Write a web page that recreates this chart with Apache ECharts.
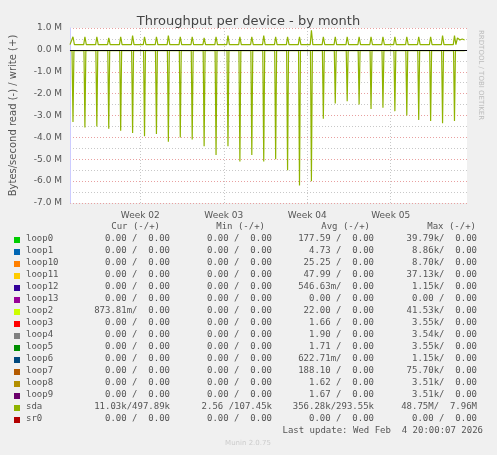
<!DOCTYPE html>
<html>
<head>
<meta charset="utf-8">
<script src="https://cdn.jsdelivr.net/npm/echarts@6/dist/echarts.min.js"></script>
<style>html,body{margin:0;padding:0;background:#f0f0f0}#main{width:497px;height:455px}</style>
</head>
<body>
<div id="main"></div>
<script>
// day offsets of the nightly spikes (0 = left edge of plot)
const spikeDays = [0.25,1.25,2.25,3.25,4.25,5.25,6.25,7.25,8.25,9.25,10.25,11.25,12.25,13.25,14.25,15.25,16.25,17.25,18.25,19.25,20.25,21.25,22.25,23.25,24.25,25.25,26.25,27.25,28.25,29.25,30.25,31.25,32.25];
// read spikes in MB/s (drawn negative)
const readSpikes = [3.3,3.55,3.5,3.6,3.7,3.8,3.95,3.85,4.2,4.0,4.1,4.4,4.8,4.4,5.1,4.8,5.1,5.0,5.5,6.2,6.0,3.15,2.45,2.35,2.5,2.7,2.65,2.8,3.0,3.2,3.25,3.35,3.25];
// write spikes in MB/s
const writeSpikes = [0.6,0.6,0.6,0.55,0.6,0.65,0.6,0.6,0.65,0.6,0.6,0.55,0.6,0.65,0.6,0.6,0.65,0.6,0.6,0.6,0.9,0.6,0.6,0.6,0.6,0.6,0.6,0.6,0.6,0.6,0.6,0.65,0.65];
const writeBase = 0.24;
const readBase = 0.03;
const tail = [[32.5,0.55],[32.7,0.45],[32.9,0.5],[33.1,0.45]];
const weekTicks = [5.9, 12.9, 19.9, 26.9];
const weekLabels = ['Week 02','Week 03','Week 04','Week 05'];

const legendNames = ['loop0','loop1','loop10','loop11','loop12','loop13','loop2','loop3','loop4','loop5','loop6','loop7','loop8','loop9','sda','sr0'];
const legendColors = ['#00cc00','#0066b3','#ff8000','#ffcc00','#330099','#990099','#ccff00','#ff0000','#808080','#008f00','#00487d','#b35a00','#b38f00','#6b006b','#8fb300','#b30000'];
const curVals = ['0.00 /  0.00','0.00 /  0.00','0.00 /  0.00','0.00 /  0.00','0.00 /  0.00','0.00 /  0.00','873.81m/  0.00','0.00 /  0.00','0.00 /  0.00','0.00 /  0.00','0.00 /  0.00','0.00 /  0.00','0.00 /  0.00','0.00 /  0.00','11.03k/497.89k','0.00 /  0.00'];
const minVals = ['0.00 /  0.00','0.00 /  0.00','0.00 /  0.00','0.00 /  0.00','0.00 /  0.00','0.00 /  0.00','0.00 /  0.00','0.00 /  0.00','0.00 /  0.00','0.00 /  0.00','0.00 /  0.00','0.00 /  0.00','0.00 /  0.00','0.00 /  0.00','2.56 /107.45k','0.00 /  0.00'];
const avgVals = ['177.59 /  0.00','4.73 /  0.00','25.25 /  0.00','47.99 /  0.00','546.63m/  0.00','0.00 /  0.00','22.00 /  0.00','1.66 /  0.00','1.90 /  0.00','1.71 /  0.00','622.71m/  0.00','188.10 /  0.00','1.62 /  0.00','1.67 /  0.00','356.28k/293.55k','0.00 /  0.00'];
const maxVals = ['39.79k/  0.00','8.86k/  0.00','8.70k/  0.00','37.13k/  0.00','1.15k/  0.00','0.00 /  0.00','41.53k/  0.00','3.55k/  0.00','3.54k/  0.00','3.55k/  0.00','1.15k/  0.00','75.70k/  0.00','3.51k/  0.00','3.51k/  0.00','48.75M/  7.96M','0.00 /  0.00'];

const M = 1e6;
const writeData = [[0, writeBase * M]];
const readData = [[0, -readBase * M]];
spikeDays.forEach((d, i) => {
  writeData.push([d - 0.1, writeBase * M], [d, writeSpikes[i] * M], [d + 0.12, writeBase * M]);
  readData.push([d - 0.08, -readBase * M], [d, -readSpikes[i] * M], [d + 0.08, -readBase * M]);
});
tail.forEach(p => writeData.push([p[0], p[1] * M]));
readData.push([33.1, -readBase * M]);

const mono = 'DejaVu Sans Mono';
const fs = 9;
const graphics = [];
const head = [['Cur (-/+)', 160], ['Min (-/+)', 265], ['Avg (-/+)', 370], ['Max (-/+)', 476]];
head.forEach(h => graphics.push({type: 'text', x: h[1], y: 222, style: {text: h[0], font: fs + 'px ' + mono, fill: '#555', align: 'right'}}));
legendNames.forEach((n, i) => {
  const y = 234 + i * 12;
  graphics.push({type: 'rect', shape: {x: 14, y: y + 3, width: 6, height: 6}, style: {fill: legendColors[i]}});
  graphics.push({type: 'text', left: 26, top: y, style: {text: n, font: fs + 'px ' + mono, fill: '#555'}});
  [[curVals, 170], [minVals, 272], [avgVals, 374], [maxVals, 477]].forEach(c => {
    graphics.push({type: 'text', x: c[1], y: y, style: {text: c[0][i], font: fs + 'px ' + mono, fill: '#555', align: 'right'}});
  });
});
graphics.push({type: 'text', x: 483, y: 426, style: {text: 'Last update: Wed Feb  4 20:00:07 2026', font: fs + 'px ' + mono, fill: '#555', align: 'right'}});
graphics.push({type: 'text', x: 248, y: 440, style: {text: 'Munin 2.0.75', font: '7px DejaVu Sans', fill: '#ccc', align: 'center'}});
graphics.push({type: 'text', x: 484, y: 30, rotation: -Math.PI / 2, style: {text: 'RRDTOOL / TOBI OETIKER', font: '7px DejaVu Sans', fill: '#bbb'}});

const chart = echarts.init(document.getElementById('main'));
chart.setOption({
  backgroundColor: '#f0f0f0',
  animation: false,
  title: {text: 'Throughput per device - by month', left: 'center', top: 10, textStyle: {fontFamily: 'DejaVu Sans', fontSize: 13, fontWeight: 'normal', color: '#444'}},
  grid: {left: 67, right: 30, top: 28, height: 175, backgroundColor: '#fff', show: true, borderWidth: 0},
  xAxis: {
    type: 'value', min: 0, max: 33.3, interval: 1,
    axisLine: {lineStyle: {color: '#ccccff'}},
    axisTick: {show: true, customValues: weekTicks, lineStyle: {color: '#ccc'}},
    axisLabel: {customValues: weekTicks, formatter: v => weekLabels[weekTicks.indexOf(v)] || '', fontFamily: 'DejaVu Sans', fontSize: 9, color: '#555'},
    splitLine: {show: true, lineStyle: {color: '#c8c8c8', type: [1, 2]}}
  },
  yAxis: {
    type: 'value', min: -7 * M, max: 1 * M, interval: 0.5 * M,
    name: 'Bytes/second read (-) / write (+)', nameLocation: 'middle', nameGap: 52,
    nameTextStyle: {fontFamily: 'DejaVu Sans', fontSize: 10, color: '#555'},
    axisLine: {show: true, lineStyle: {color: '#ccccff'}},
    axisTick: {show: false},
    axisLabel: {fontFamily: 'DejaVu Sans', fontSize: 9, color: '#555',
      formatter: v => (Math.abs(v / M) % 1 === 0) ? (v / M).toFixed(1) + ' M' : ''},
    splitLine: {show: true, lineStyle: {color: ['#e8a0a0', '#c8c8c8'], type: [1, 2]}}
  },
  graphic: graphics,
  series: [
    {type: 'line', name: 'sda read', data: readData, symbol: 'none', lineStyle: {color: '#8fb300', width: 1.2},
      markLine: {silent: true, symbol: 'none', label: {show: false}, data: [{yAxis: 0}], lineStyle: {color: '#000', type: 'solid', width: 1}}},
    {type: 'line', name: 'sda write', data: writeData, symbol: 'none', lineStyle: {color: '#8fb300', width: 1.2}}
  ]
});
</script>
</body>
</html>
